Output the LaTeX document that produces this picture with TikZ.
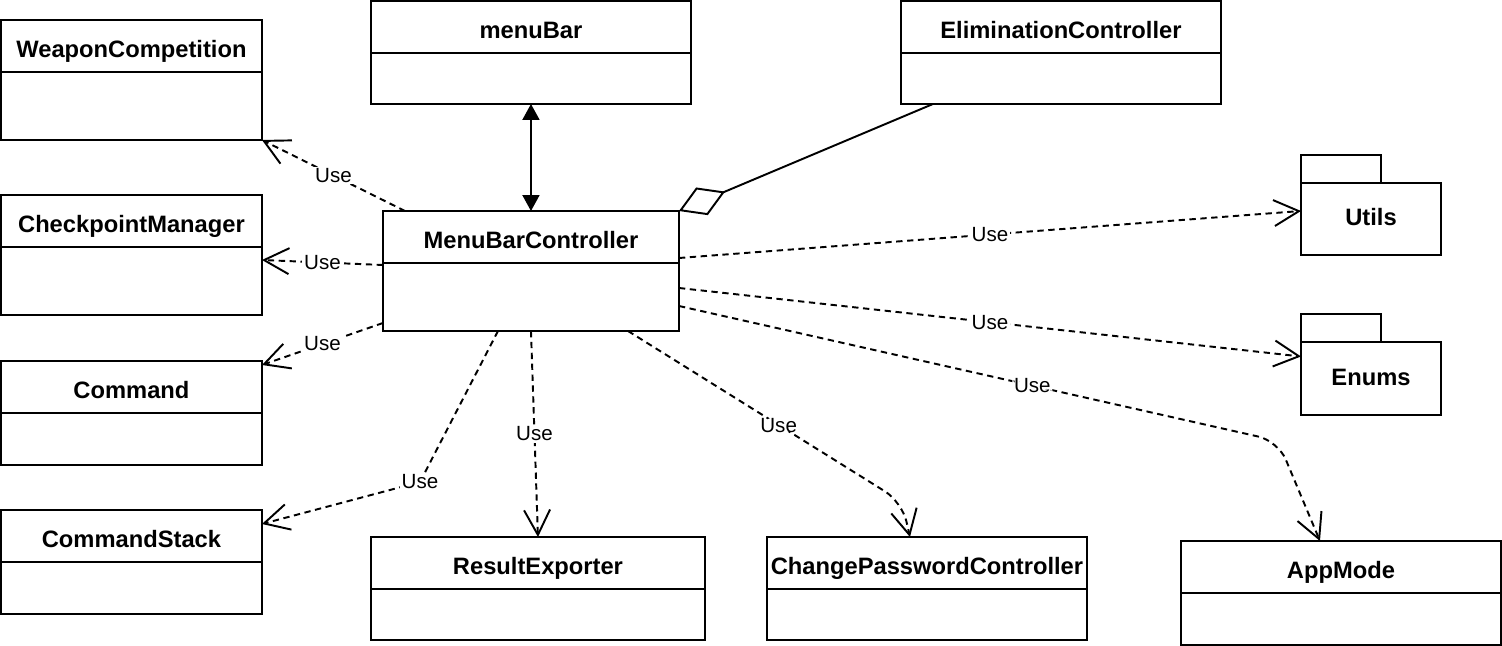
\documentclass[tikz,border=0pt]{standalone}
\usepackage{fontspec}
\setmainfont{Liberation Sans}
\usepackage{tikz}
\usetikzlibrary{arrows.meta,positioning,calc}
\tikzset{
  header/.style={draw,line width=1.1pt,anchor=north west,inner sep=0pt,outer sep=0pt,
    minimum height=1.04cm,text height=15pt,text depth=2pt,
    font=\bfseries\fontsize{13.5}{16}\selectfont},
  body/.style={draw,line width=1.1pt,inner sep=0pt,outer sep=0pt},
  pkgtab/.style={draw,line width=1.1pt,anchor=north west,inner sep=0pt,outer sep=0pt,
    minimum width=1.6cm,minimum height=0.56cm},
  pkg/.style={draw,line width=1.1pt,anchor=north west,inner sep=0pt,outer sep=0pt,
    minimum width=2.8cm,text height=9.7pt,text depth=2.2pt,
    font=\bfseries\fontsize{13.5}{16}\selectfont},
  use/.style={line width=1.1pt,dash pattern=on 3.6pt off 2.6pt,
    -{Straight Barb[length=0.5cm,width=0.52cm]}},
  usetext/.style={fill=white,inner sep=1pt,font=\fontsize{11.7}{14}\selectfont},
  assoc/.style={line width=1.1pt,
    {Triangle[length=0.32cm,width=0.34cm]}-{Triangle[length=0.32cm,width=0.34cm]}},
  aggr/.style={line width=1.1pt,-{Diamond[open,length=1.0cm,width=0.6cm]}}
}

\begin{document}
\begin{tikzpicture}[x=0.02cm,y=-0.02cm]
  \useasboundingbox (0,0) rectangle (1502,646);
  % classes on the left
  \node[header,minimum width=5.22cm] (weapon) at (1,20) {WeaponCompetition};
  \node[body,minimum width=5.22cm,minimum height=1.36cm,below=0pt of weapon] (weapon-b) {};
  \node[header,minimum width=5.22cm] (checkpoint) at (1,195) {CheckpointManager};
  \node[body,minimum width=5.22cm,minimum height=1.36cm,below=0pt of checkpoint] (checkpoint-b) {};
  \node[header,minimum width=5.22cm] (command) at (1,361) {Command};
  \node[body,minimum width=5.22cm,minimum height=1.04cm,below=0pt of command] (command-b) {};
  \node[header,minimum width=5.22cm] (cmdstack) at (1,510) {CommandStack};
  \node[body,minimum width=5.22cm,minimum height=1.04cm,below=0pt of cmdstack] (cmdstack-b) {};
  % top row
  \node[header,minimum width=6.4cm] (menubar) at (371,1) {menuBar};
  \node[body,minimum width=6.4cm,minimum height=1.02cm,below=0pt of menubar] (menubar-b) {};
  \node[header,minimum width=6.4cm] (elim) at (901,1) {EliminationController};
  \node[body,minimum width=6.4cm,minimum height=1.02cm,below=0pt of elim] (elim-b) {};
  % centre
  \node[header,minimum width=5.92cm] (ctrl) at (383,211) {MenuBarController};
  \node[body,minimum width=5.92cm,minimum height=1.36cm,below=0pt of ctrl] (ctrl-b) {};
  % bottom row
  \node[header,minimum width=6.68cm] (exporter) at (371,537) {ResultExporter};
  \node[body,minimum width=6.68cm,minimum height=1.02cm,below=0pt of exporter] (exporter-b) {};
  \node[header,minimum width=6.4cm] (changepw) at (767,537) {ChangePasswordController};
  \node[body,minimum width=6.4cm,minimum height=1.02cm,below=0pt of changepw] (changepw-b) {};
  \node[header,minimum width=6.4cm] (appmode) at (1181,541) {AppMode};
  \node[body,minimum width=6.4cm,minimum height=1.04cm,below=0pt of appmode] (appmode-b) {};
  % packages
  \node[pkgtab] (utils-tab) at (1301,155) {};
  \node[pkg,minimum height=1.44cm] (utils) at (utils-tab.south west) {Utils};
  \node[pkgtab] (enums-tab) at (1301,314) {};
  \node[pkg,minimum height=1.46cm] (enums) at (enums-tab.south west) {Enums};

  \coordinate (bendstack) at (420,482);
  \coordinate (bendpw) at (902,502);
  \coordinate (bendmode) at (1278,441);

  \draw[assoc] (menubar-b.south) -- (ctrl.north);
  \draw[aggr] ($(elim-b.south west)+(32,0)$) -- (ctrl.north east);
  \draw[use] ($(ctrl.north west)+(22,0)$) -- node[usetext] (u1) {Use} (weapon-b.south east);
  \draw[use] ($(ctrl-b.north west)+(0,2)$) -- node[usetext] (u2) {Use} ($(checkpoint-b.north east)+(0,13)$);
  \draw[use] ($(ctrl-b.south west)+(0,-8)$) -- node[usetext] (u3) {Use} ($(command.north east)+(0,4)$);
  \draw[use] ($(ctrl-b.south west)+(115,0)$) -- (bendstack) node[usetext] (u4) {Use}
    -- ($(cmdstack.north east)+(0,14)$);
  \draw[use] (ctrl-b.south) -- node[usetext] (u5) {Use} (exporter.north);
  \draw[use,rounded corners=0.4cm] ($(ctrl-b.south east)+(-51,0)$) -- node[usetext,pos=0.55] (u6) {Use}
    (bendpw) -- ($(changepw.north)+(-17,0)$);
  \draw[use,rounded corners=0.4cm] ($(ctrl-b.east)+(0,9)$) -- node[usetext,pos=0.59] (u7) {Use}
    (bendmode) -- ($(appmode.north)+(-21,0)$);
  \draw[use] ($(ctrl-b.east)+(0,-9)$) -- node[usetext] (u8) {Use} ($(enums.west)+(0,-22)$);
  \draw[use] ($(ctrl.south east)+(0,-5)$) -- node[usetext] (u9) {Use} ($(utils.west)+(0,-8)$);
\end{tikzpicture}
\end{document}
